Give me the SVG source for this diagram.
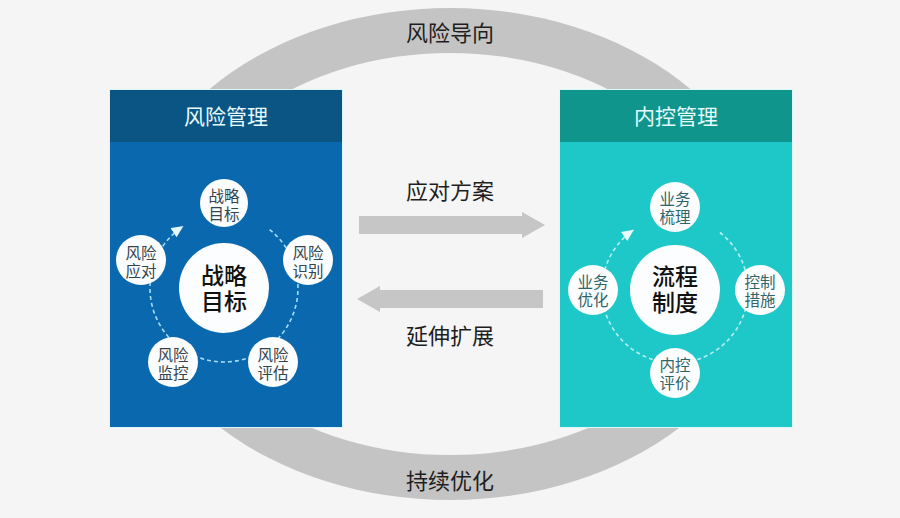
<svg xmlns="http://www.w3.org/2000/svg" width="900" height="518" viewBox="0 0 900 518">
  <style>
    text { font-family: "Noto Sans CJK SC", "Noto Sans", sans-serif; text-anchor: middle; }
    .lbl { font-size: 22px; fill: #1e1e1e; }
    .hdr { font-size: 21px; fill: #e6fbff; }
    .big { font-size: 23px; fill: #111111; font-weight: 500; }
    .sm { font-size: 15.5px; }
    .smL { fill: #34444f; }
    .smR { fill: #2f6468; }
    .node { fill: #fbfdfe; }
    .dashL { fill: none; stroke: #a8dcf2; stroke-width: 1.6; stroke-dasharray: 4 3; }
    .dashR { fill: none; stroke: #b6f0f0; stroke-width: 1.6; stroke-dasharray: 4 3; }
    .garrow { fill: #c6c6c6; }
  </style>
  <defs>
    <marker id="ahL" markerUnits="userSpaceOnUse" markerWidth="12" markerHeight="12" viewBox="0 0 12 12" refX="11" refY="6" orient="auto">
      <path d="M0,0.5 L12,6 L0,11.5 Z" fill="#e4f6fd"/>
    </marker>
    <marker id="ahR" markerUnits="userSpaceOnUse" markerWidth="12" markerHeight="12" viewBox="0 0 12 12" refX="11" refY="6" orient="auto">
      <path d="M0,0.5 L12,6 L0,11.5 Z" fill="#e8fbfb"/>
    </marker>
  </defs>
  <rect x="0" y="0" width="900" height="518" fill="#f5f5f5"/>

  <!-- background ring -->
  <g id="ring">
    <path fill="#c4c4c4" fill-rule="evenodd" d="M126,254 a324,246 0 1,0 648,0 a324,246 0 1,0 -648,0 Z M175,254 a275,201 0 1,0 550,0 a275,201 0 1,0 -550,0 Z"/>
    <text class="lbl" x="450" y="41">风险导向</text>
    <text class="lbl" x="450" y="489">持续优化</text>
  </g>

  <!-- left panel -->
  <g id="panel-risk">
    <rect x="109" y="89" width="234" height="339" fill="#dcf4fb"/>
    <rect x="110" y="90" width="232" height="337" fill="#0a69ae"/>
    <rect x="110" y="90" width="232" height="52" fill="#0a5583"/>
    <text class="hdr" x="226" y="124">风险管理</text>
  </g>

  <!-- right panel -->
  <g id="panel-control">
    <rect x="559" y="89" width="234" height="339" fill="#dcf8f8"/>
    <rect x="560" y="90" width="232" height="337" fill="#1ec8c8"/>
    <rect x="560" y="90" width="232" height="52" fill="#0f958b"/>
    <text class="hdr" x="676" y="124">内控管理</text>
  </g>

  <!-- connectors -->
  <g id="connectors">
    <path class="dashL" d="M269.6,229.7 A74,74 0 1,1 182.6,226.6" marker-end="url(#ahL)"/>
    <path class="dashR" d="M719.9,232.5 A73,73 0 1,1 633.1,230.2" marker-end="url(#ahR)"/>
    <polygon class="garrow" points="359,216 522,216 522,212 545,225 522,238 522,234 359,234"/>
    <polygon class="garrow" points="543,290 380,290 380,286 357,299 380,312 380,308 543,308"/>
    <text class="lbl" x="450" y="199">应对方案</text>
    <text class="lbl" x="450" y="344">延伸扩展</text>
  </g>

  <!-- left nodes -->
  <g id="risk-center">
    <circle class="node" cx="224" cy="288" r="45"/>
    <text class="big" x="224" y="284"><tspan x="224">战略</tspan><tspan x="224" dy="26">目标</tspan></text>
  </g>
  <g id="risk-goal">
    <circle class="node" cx="224" cy="203" r="24"/>
    <text class="sm smL" x="224" y="202"><tspan x="224">战略</tspan><tspan x="224" dy="18">目标</tspan></text>
  </g>
  <g id="risk-identify">
    <circle class="node" cx="308" cy="260" r="25"/>
    <text class="sm smL" x="308" y="259"><tspan x="308">风险</tspan><tspan x="308" dy="18">识别</tspan></text>
  </g>
  <g id="risk-assess">
    <circle class="node" cx="273" cy="362" r="25"/>
    <text class="sm smL" x="273" y="361"><tspan x="273">风险</tspan><tspan x="273" dy="18">评估</tspan></text>
  </g>
  <g id="risk-monitor">
    <circle class="node" cx="173" cy="362" r="25"/>
    <text class="sm smL" x="173" y="361"><tspan x="173">风险</tspan><tspan x="173" dy="18">监控</tspan></text>
  </g>
  <g id="risk-respond">
    <circle class="node" cx="141" cy="260" r="25"/>
    <text class="sm smL" x="141" y="259"><tspan x="141">风险</tspan><tspan x="141" dy="18">应对</tspan></text>
  </g>

  <!-- right nodes -->
  <g id="control-center">
    <circle class="node" cx="675" cy="290" r="45"/>
    <text class="big" x="675" y="285"><tspan x="675">流程</tspan><tspan x="675" dy="26">制度</tspan></text>
  </g>
  <g id="control-business">
    <circle class="node" cx="675" cy="207" r="25"/>
    <text class="sm smR" x="675" y="205"><tspan x="675">业务</tspan><tspan x="675" dy="18">梳理</tspan></text>
  </g>
  <g id="control-measures">
    <circle class="node" cx="760" cy="290" r="25"/>
    <text class="sm smR" x="760" y="288"><tspan x="760">控制</tspan><tspan x="760" dy="18">措施</tspan></text>
  </g>
  <g id="control-evaluate">
    <circle class="node" cx="675" cy="373" r="25"/>
    <text class="sm smR" x="675" y="371"><tspan x="675">内控</tspan><tspan x="675" dy="18">评价</tspan></text>
  </g>
  <g id="control-optimize">
    <circle class="node" cx="593" cy="290" r="25"/>
    <text class="sm smR" x="593" y="288"><tspan x="593">业务</tspan><tspan x="593" dy="18">优化</tspan></text>
  </g>
</svg>
